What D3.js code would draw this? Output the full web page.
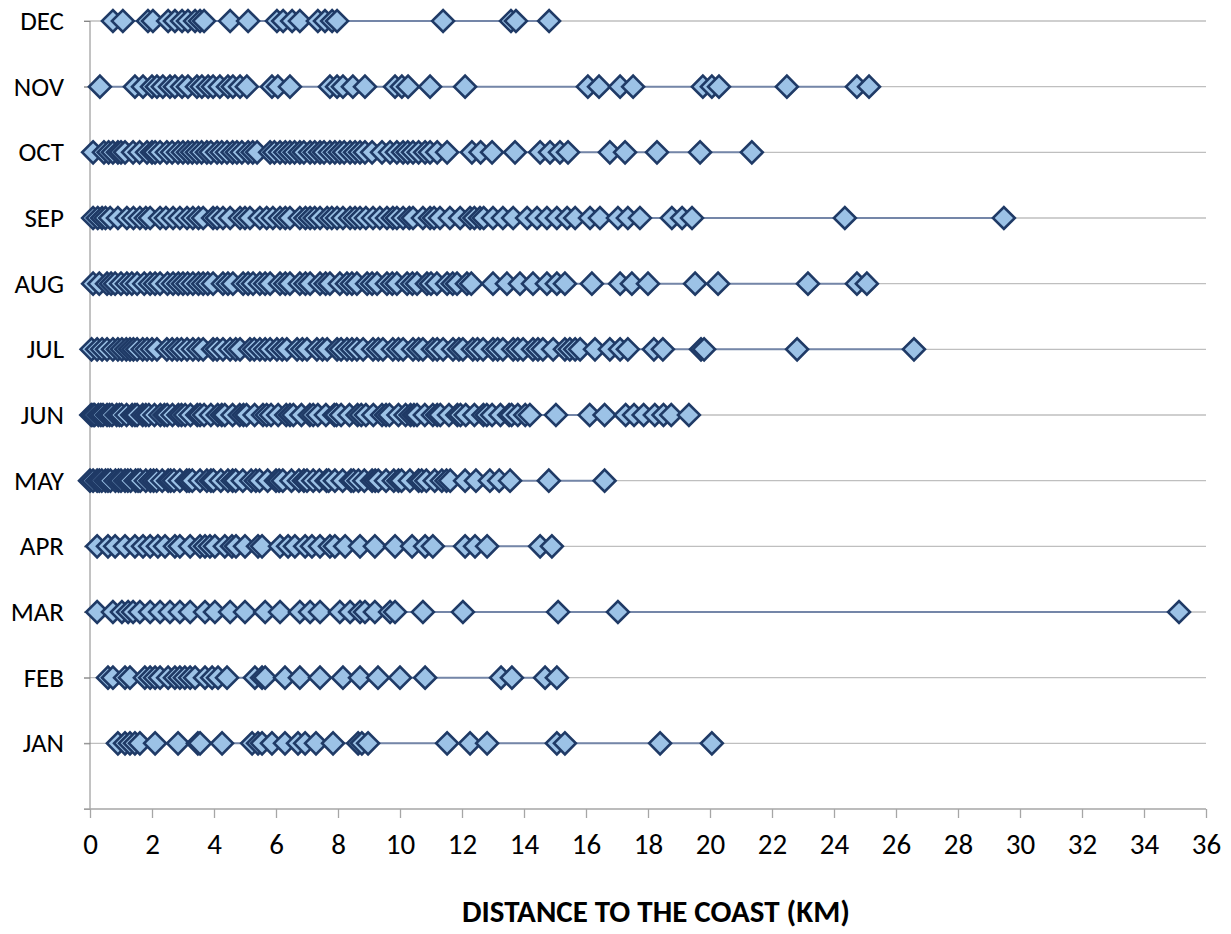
<!DOCTYPE html>
<html lang="en">
<head>
  <meta charset="UTF-8">
  <title>Distance to the coast by month</title>
  <script src="https://d3js.org/d3.v7.min.js"></script>
  <style>
    body { margin: 0; background: #fff; }
    text { font-family: Carlito, Calibri, Lato, sans-serif; fill: #000; }
  </style>
</head>
<body>
  <div class="canvas"></div>
  <script>
    // months, bottom (1) to top (12)
    const months = ['JAN', 'FEB', 'MAR', 'APR', 'MAY', 'JUN', 'JUL', 'AUG', 'SEP', 'OCT', 'NOV', 'DEC'];
    const xTicks = [0, 2, 4, 6, 8, 10, 12, 14, 16, 18, 20, 22, 24, 26, 28, 30, 32, 34, 36];

    // distances to the coast (km)
    const jan = [0.9, 1.13, 1.29, 1.45, 1.61, 2.1, 2.84, 3.48, 3.55, 4.26, 5.23, 5.42, 5.55, 5.87, 6.29, 6.71, 6.94, 7.29, 7.84, 8.65, 8.77, 8.97, 11.52, 12.26, 12.81, 15.06, 15.32, 18.39, 20.06];
    const feb = [0.58, 0.74, 1.13, 1.29, 1.77, 1.94, 2.1, 2.26, 2.52, 2.74, 2.9, 3.06, 3.23, 3.39, 3.71, 3.94, 4.13, 4.42, 5.32, 5.55, 5.65, 6.29, 6.77, 7.42, 8.16, 8.71, 9.29, 10.0, 10.81, 13.26, 13.61, 14.68, 15.06];
    const mar = [0.23, 0.74, 1.03, 1.23, 1.39, 1.61, 1.94, 2.26, 2.58, 2.9, 3.23, 3.71, 4.03, 4.52, 5.0, 5.65, 6.13, 6.77, 7.1, 7.42, 8.06, 8.39, 8.71, 8.87, 9.19, 9.68, 9.84, 10.74, 12.03, 15.1, 17.03, 35.13];
    const apr = [0.23, 0.58, 0.81, 1.13, 1.45, 1.71, 1.94, 2.19, 2.42, 2.74, 2.9, 3.23, 3.55, 3.71, 3.87, 4.03, 4.35, 4.58, 4.71, 5.0, 5.42, 5.55, 6.13, 6.39, 6.61, 6.94, 7.16, 7.42, 7.74, 7.9, 8.23, 8.71, 9.19, 9.84, 10.39, 10.81, 11.06, 12.1, 12.42, 12.81, 14.52, 14.9];
    const may = [0.0, 0.1, 0.23, 0.3, 0.38, 0.5, 0.58, 0.66, 0.82, 0.92, 1.0, 1.13, 1.22, 1.31, 1.47, 1.55, 1.62, 1.8, 1.95, 2.05, 2.15, 2.33, 2.52, 2.6, 2.71, 2.9, 3.12, 3.2, 3.3, 3.55, 3.77, 3.9, 3.98, 4.22, 4.45, 4.6, 4.7, 4.93, 5.2, 5.35, 5.47, 5.73, 6.0, 6.1, 6.22, 6.5, 6.74, 6.9, 7.0, 7.2, 7.4, 7.63, 7.7, 7.9, 8.15, 8.42, 8.5, 8.66, 8.85, 9.1, 9.2, 9.3, 9.55, 9.8, 9.95, 10.05, 10.32, 10.6, 10.7, 10.85, 11.12, 11.35, 11.5, 11.62, 12.1, 12.45, 12.9, 13.2, 13.55, 14.8, 16.6];
    const jun = [0.04, 0.1, 0.15, 0.27, 0.35, 0.42, 0.55, 0.63, 0.71, 0.86, 0.95, 1.02, 1.18, 1.36, 1.45, 1.52, 1.7, 1.8, 1.9, 2.08, 2.27, 2.4, 2.49, 2.66, 2.85, 2.95, 3.07, 3.24, 3.46, 3.55, 3.68, 3.9, 4.12, 4.25, 4.35, 4.6, 4.83, 4.95, 5.05, 5.31, 5.58, 5.7, 5.84, 6.07, 6.33, 6.45, 6.56, 6.82, 7.09, 7.2, 7.35, 7.61, 7.88, 7.95, 8.1, 8.37, 8.63, 8.75, 8.9, 9.14, 9.42, 9.55, 9.66, 9.95, 10.18, 10.34, 10.45, 10.55, 10.8, 11.06, 11.2, 11.3, 11.58, 11.85, 11.95, 12.12, 12.4, 12.69, 12.8, 12.97, 13.24, 13.52, 13.6, 13.8, 14.04, 14.19, 15.03, 16.12, 16.6, 17.28, 17.55, 17.86, 18.22, 18.5, 18.75, 19.32];
    const jul = [0.05, 0.23, 0.39, 0.55, 0.74, 0.9, 1.03, 1.17, 1.29, 1.4, 1.52, 1.7, 1.84, 2.0, 2.16, 2.48, 2.65, 2.81, 2.95, 3.13, 3.32, 3.5, 3.65, 3.97, 4.1, 4.29, 4.52, 4.7, 4.84, 5.16, 5.3, 5.48, 5.65, 5.81, 6.03, 6.2, 6.35, 6.68, 6.85, 7.0, 7.32, 7.5, 7.65, 7.97, 8.1, 8.29, 8.45, 8.61, 8.81, 9.13, 9.3, 9.45, 9.77, 9.95, 10.1, 10.42, 10.6, 10.74, 11.06, 11.2, 11.39, 11.71, 11.9, 12.03, 12.35, 12.5, 12.68, 13.0, 13.15, 13.32, 13.65, 13.8, 13.97, 14.29, 14.45, 14.61, 14.94, 15.32, 15.48, 15.65, 15.81, 16.29, 16.77, 17.1, 17.35, 18.19, 18.48, 19.71, 19.81, 22.81, 26.58];
    const aug = [0.1, 0.3, 0.55, 0.68, 0.81, 1.0, 1.19, 1.35, 1.52, 1.75, 1.94, 2.1, 2.26, 2.5, 2.68, 2.85, 3.0, 3.15, 3.32, 3.5, 3.65, 3.8, 3.97, 4.29, 4.45, 4.61, 4.94, 5.1, 5.26, 5.48, 5.65, 5.81, 6.13, 6.3, 6.45, 6.77, 6.95, 7.1, 7.42, 7.6, 7.74, 8.06, 8.29, 8.45, 8.61, 8.94, 9.1, 9.26, 9.58, 9.75, 9.9, 10.23, 10.4, 10.55, 10.87, 11.0, 11.19, 11.52, 11.7, 11.84, 12.16, 12.3, 13.0, 13.45, 13.87, 14.29, 14.74, 15.06, 15.32, 16.19, 17.1, 17.48, 18.0, 19.52, 20.26, 23.16, 24.74, 25.06];
    const sep = [0.1, 0.25, 0.39, 0.5, 0.65, 0.9, 1.19, 1.4, 1.61, 1.8, 1.94, 2.26, 2.45, 2.68, 2.9, 3.13, 3.32, 3.5, 3.65, 3.97, 4.1, 4.29, 4.52, 4.84, 5.0, 5.16, 5.48, 5.7, 5.9, 6.13, 6.3, 6.45, 6.77, 6.95, 7.1, 7.25, 7.42, 7.65, 7.8, 7.97, 8.16, 8.39, 8.55, 8.71, 8.9, 9.13, 9.35, 9.58, 9.77, 9.9, 10.1, 10.3, 10.42, 10.74, 10.97, 11.1, 11.29, 11.61, 11.94, 12.26, 12.4, 12.58, 12.7, 13.0, 13.32, 13.65, 14.1, 14.42, 14.74, 15.06, 15.39, 15.65, 16.13, 16.45, 17.03, 17.35, 17.74, 18.77, 19.1, 19.42, 24.35, 29.48];
    const oct = [0.1, 0.45, 0.6, 0.74, 0.9, 1.0, 1.13, 1.39, 1.6, 1.84, 2.0, 2.1, 2.26, 2.48, 2.65, 2.84, 3.0, 3.16, 3.3, 3.45, 3.6, 3.77, 3.9, 4.1, 4.25, 4.42, 4.6, 4.74, 4.9, 5.1, 5.25, 5.39, 5.81, 5.95, 6.13, 6.3, 6.45, 6.6, 6.77, 6.9, 7.1, 7.25, 7.42, 7.55, 7.74, 7.9, 8.06, 8.2, 8.39, 8.55, 8.71, 8.87, 9.1, 9.42, 9.68, 9.9, 10.1, 10.25, 10.42, 10.6, 10.81, 10.97, 11.2, 11.52, 12.32, 12.6, 12.97, 13.71, 14.52, 14.84, 15.16, 15.42, 16.77, 17.26, 18.29, 19.68, 21.35];
    const nov = [0.32, 1.45, 1.71, 2.0, 2.16, 2.35, 2.58, 2.74, 2.97, 3.16, 3.45, 3.61, 3.81, 3.97, 4.19, 4.45, 4.61, 4.84, 5.06, 5.87, 6.06, 6.45, 7.74, 7.97, 8.16, 8.48, 8.87, 9.84, 10.06, 10.26, 10.97, 12.1, 16.06, 16.42, 17.1, 17.52, 19.77, 20.06, 20.29, 22.48, 24.74, 25.13];
    const dec = [0.74, 1.06, 1.87, 2.03, 2.52, 2.74, 2.97, 3.16, 3.39, 3.55, 3.68, 4.52, 5.1, 6.03, 6.23, 6.52, 6.77, 7.35, 7.58, 7.81, 7.97, 11.39, 13.58, 13.74, 14.81];

    const series = [jan, feb, mar, apr, may, jun, jul, aug, sep, oct, nov, dec]
      .map((vals, i) => ({ month: months[i], row: i + 1, vals }));

    const width = 1231, height = 934;
    const margin = { top: 21, right: 25, bottom: 125, left: 90 };
    const w = width - margin.left - margin.right;
    const h = height - margin.top - margin.bottom;

    const svg = d3.select('.canvas')
      .append('svg')
      .attr('width', width)
      .attr('height', height);

    const g = svg.append('g')
      .attr('transform', `translate(${margin.left}, ${margin.top})`);

    const x = d3.scaleLinear().domain([0, 36]).range([0, w]);
    const y = d3.scaleLinear().domain([0, 12]).range([h, 0]);

    // horizontal gridlines at each month
    g.append('g')
      .selectAll('line')
      .data(series)
      .enter()
      .append('line')
      .attr('x1', -6)
      .attr('x2', w)
      .attr('y1', d => y(d.row))
      .attr('y2', d => y(d.row))
      .attr('stroke', '#bfbfbf')
      .attr('stroke-width', 1.3);

    // y axis (month labels)
    const yAxis = g.append('g')
      .call(d3.axisLeft(y)
        .tickValues(d3.range(0, 13))
        .tickSize(6)
        .tickPadding(20)
        .tickFormat(v => v === 0 ? '' : months[v - 1]));
    yAxis.select('.domain').attr('stroke', '#868686').attr('d', `M0,${h}V0`);
    yAxis.selectAll('.tick line').attr('stroke', '#868686');
    yAxis.selectAll('.tick text').style('font-size', '27px');

    // x axis
    const xAxis = g.append('g')
      .attr('transform', `translate(0, ${h})`)
      .call(d3.axisBottom(x)
        .tickValues(xTicks)
        .tickSize(9)
        .tickPadding(15)
        .tickFormat(d3.format('d')));
    xAxis.select('.domain').attr('stroke', '#a6a6a6').attr('stroke-width', 1.3).attr('d', `M-6,0H${w}`);
    xAxis.selectAll('.tick line').attr('stroke', '#a6a6a6').attr('stroke-width', 1.3);
    xAxis.selectAll('.tick text').style('font-size', '29px');

    // series lines
    const line = d3.line().x(d => x(d)).y(0);
    const rows = g.append('g')
      .selectAll('g')
      .data(series)
      .enter()
      .append('g')
      .attr('transform', d => `translate(0, ${y(d.row)})`);

    rows.append('path')
      .attr('d', d => line(d3.sort(d.vals)))
      .attr('fill', 'none')
      .attr('stroke', '#7486a8')
      .attr('stroke-width', 2);

    // diamond markers
    const diamond = d3.symbol().type(d3.symbolSquare).size(240);
    rows.selectAll('path.mark')
      .data(d => d.vals)
      .enter()
      .append('path')
      .attr('class', 'mark')
      .attr('d', diamond)
      .attr('transform', d => `translate(${x(d)}, 0) rotate(45)`)
      .attr('fill', '#9cc2e6')
      .attr('stroke', '#1f3a66')
      .attr('stroke-width', 2.6);

    // axis title
    svg.append('text')
      .attr('x', 656)
      .attr('y', 922)
      .attr('text-anchor', 'middle')
      .style('font-size', '31px')
      .style('font-weight', 'bold')
      .text('DISTANCE TO THE COAST (KM)');
  </script>
</body>
</html>
